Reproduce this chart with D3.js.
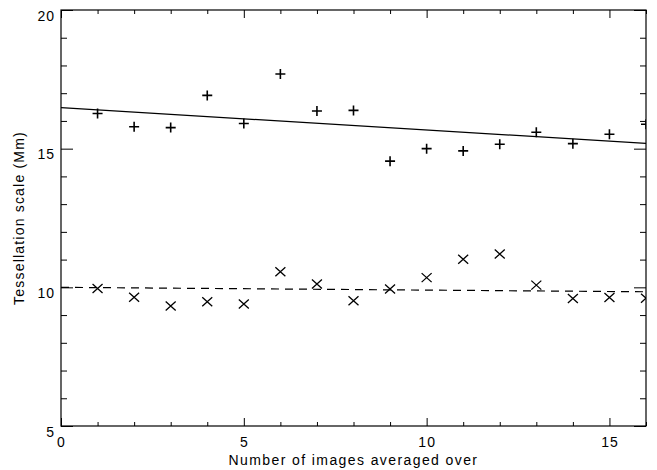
<!DOCTYPE html>
<html>
<head>
<meta charset="utf-8">
<script src="https://cdn.jsdelivr.net/npm/d3@7"></script>
<style>
  body { margin: 0; background: #fff; }
  svg text { font-family: "Liberation Sans", Arial, sans-serif; font-size: 14px; letter-spacing: 1px; fill: #000; }
</style>
</head>
<body>
<div class="chart"></div>
<script>
// data
const imagesAveraged = [1, 2, 3, 4, 5, 6, 7, 8, 9, 10, 11, 12, 13, 14, 15, 16];
const scalePlus = [16.27, 15.79, 15.76, 16.92, 15.91, 17.69, 16.36, 16.38, 14.55, 15.0, 14.92, 15.16, 15.59, 15.18, 15.52, 15.88];
const scaleCross = [9.96, 9.64, 9.33, 9.48, 9.40, 10.56, 10.12, 9.52, 9.94, 10.35, 11.01, 11.20, 10.08, 9.60, 9.63, 9.61];
// fitted lines: [x, y] end points
const fitPlus = [[0, 16.48], [16, 15.19]];
const fitCross = [[0, 10.0], [16, 9.84]];
const xMajor = [0, 5, 10, 15];
const yMajor = [5, 10, 15, 20];

let margin = { top: 10, right: 11, bottom: 44, left: 61 };
let width = 657 - margin.left - margin.right;
let height = 470 - margin.top - margin.bottom;

const svg = d3.select(".chart")
    .append("svg")
    .attr("width", 657)
    .attr("height", 470)
    .append("g")
    .attr("transform", `translate(${margin.left},${margin.top})`);

const x = d3.scaleLinear().domain([0, 16]).range([0, width]);
const y = d3.scaleLinear().domain([5, 20]).range([height, 0]);

const xMinor = d3.range(0, 17).filter((d) => d % 5 !== 0);
const yMinor = d3.range(5, 21).filter((d) => d % 5 !== 0);

function styleAxis(g) {
    g.select(".domain").remove();
    g.selectAll("line").attr("stroke", "#000");
    g.selectAll("text").attr("font-size", null).attr("font-family", null);
}

// bottom axis
svg.append("g")
    .attr("transform", `translate(0,${height})`)
    .call(d3.axisBottom(x).tickValues(xMajor).tickSize(-8).tickPadding(11).tickFormat(d3.format("d")))
    .call(styleAxis);
svg.append("g")
    .attr("transform", `translate(0,${height})`)
    .call(d3.axisBottom(x).tickValues(xMinor).tickSize(-4).tickFormat(""))
    .call(styleAxis);
// top axis
svg.append("g")
    .call(d3.axisTop(x).tickValues(xMajor).tickSize(-8).tickFormat(""))
    .call(styleAxis);
svg.append("g")
    .call(d3.axisTop(x).tickValues(xMinor).tickSize(-4).tickFormat(""))
    .call(styleAxis);
// left axis
svg.append("g")
    .call(d3.axisLeft(y).tickValues(yMajor).tickSize(-12).tickPadding(6).tickFormat(d3.format("d")))
    .call(styleAxis)
    .selectAll("text").attr("dy", "0.72em");
svg.append("g")
    .call(d3.axisLeft(y).tickValues(yMinor).tickSize(-6).tickFormat(""))
    .call(styleAxis);
// right axis
svg.append("g")
    .attr("transform", `translate(${width},0)`)
    .call(d3.axisRight(y).tickValues(yMajor).tickSize(-12).tickFormat(""))
    .call(styleAxis);
svg.append("g")
    .attr("transform", `translate(${width},0)`)
    .call(d3.axisRight(y).tickValues(yMinor).tickSize(-6).tickFormat(""))
    .call(styleAxis);

// frame
svg.append("rect")
    .attr("width", width)
    .attr("height", height)
    .attr("fill", "none")
    .attr("stroke", "#000")
    .attr("stroke-width", 1.2);

svg.append("clipPath").attr("id", "plot-clip")
    .append("rect").attr("width", width).attr("height", height);

const plot = svg.append("g").attr("clip-path", "url(#plot-clip)");

const line = d3.line().x((d) => x(d[0])).y((d) => y(d[1]));

plot.append("path")
    .datum(fitPlus)
    .attr("d", line)
    .attr("fill", "none")
    .attr("stroke", "#000")
    .attr("stroke-width", 1.2);

plot.append("path")
    .datum(fitCross)
    .attr("d", line)
    .attr("fill", "none")
    .attr("stroke", "#000")
    .attr("stroke-width", 1.2)
    .attr("stroke-dasharray", "8,6");

const plusSize = 5;
plot.selectAll(".plus")
    .data(imagesAveraged)
    .join("path")
    .attr("class", "plus")
    .attr("d", (d, i) => {
        const cx = x(d), cy = y(scalePlus[i]);
        return `M${cx - plusSize},${cy}H${cx + plusSize}M${cx},${cy - plusSize}V${cy + plusSize}`;
    })
    .attr("stroke", "#000")
    .attr("stroke-width", 1.6)
    .attr("fill", "none");

const crossW = 5, crossH = 4.5;
plot.selectAll(".cross")
    .data(imagesAveraged)
    .join("path")
    .attr("class", "cross")
    .attr("d", (d, i) => {
        const cx = x(d), cy = y(scaleCross[i]);
        return `M${cx - crossW},${cy - crossH}L${cx + crossW},${cy + crossH}M${cx - crossW},${cy + crossH}L${cx + crossW},${cy - crossH}`;
    })
    .attr("stroke", "#000")
    .attr("stroke-width", 1.3)
    .attr("fill", "none");

// axis titles
svg.append("text")
    .attr("x", width / 2)
    .attr("y", height + 39)
    .attr("text-anchor", "middle")
    .style("letter-spacing", "1.4px")
    .text("Number of images averaged over");

svg.append("text")
    .attr("transform", `translate(${24 - margin.left},${height / 2})rotate(-90)`)
    .attr("text-anchor", "middle")
    .style("letter-spacing", "1.2px")
    .text("Tessellation scale (Mm)");
</script>
</body>
</html>
